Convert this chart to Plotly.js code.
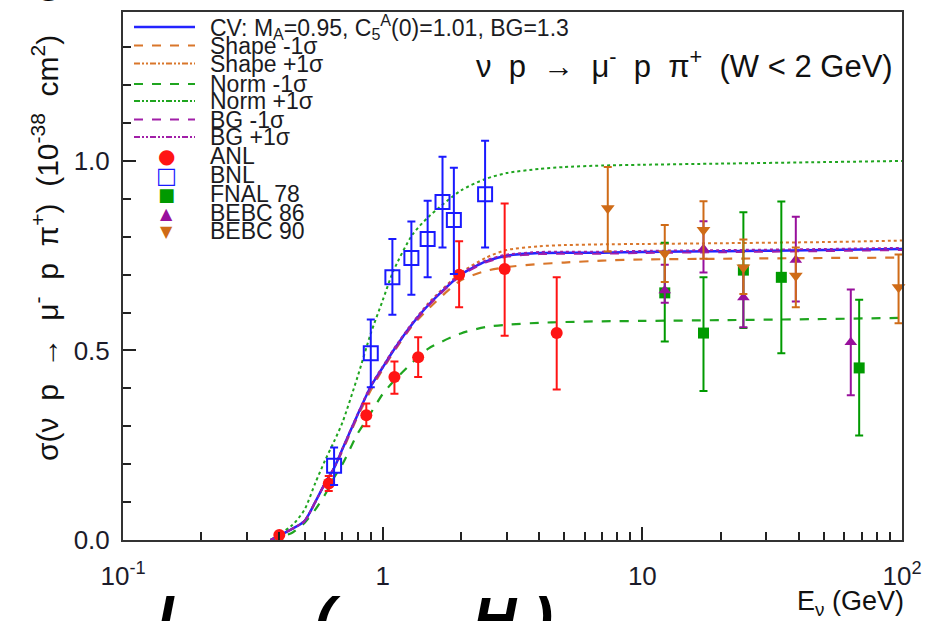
<!DOCTYPE html>
<html>
<head>
<meta charset="utf-8">
<script src="https://cdn.plot.ly/plotly-3.0.1.min.js"></script>
<style>html,body{margin:0;padding:0;background:#fff;}#chart{width:925px;height:621px;}</style>
</head>
<body>
<div id="chart"></div>
<script>
// ---------- model curves ----------
const curveE      = [0.37,0.45,0.5,0.55,0.6,0.65,0.7,0.8,0.9,1.0,1.1,1.3,1.5,2,2.5,3,4,5,7,10,20,50,100];
const cvSigma     = [0,0.03,0.05,0.10,0.15,0.19,0.24,0.33,0.405,0.455,0.50,0.57,0.62,0.70,0.735,0.75,0.757,0.758,0.758,0.76,0.762,0.765,0.768];
const shapeMinus  = [0,0.03,0.05,0.10,0.15,0.19,0.235,0.325,0.395,0.45,0.495,0.565,0.61,0.685,0.71,0.72,0.728,0.732,0.737,0.74,0.742,0.744,0.745];
const shapePlus   = [0,0.03,0.05,0.10,0.15,0.19,0.24,0.33,0.405,0.455,0.50,0.57,0.625,0.705,0.745,0.765,0.775,0.778,0.78,0.781,0.783,0.786,0.79];
const normMinus   = [0,0.02,0.045,0.08,0.12,0.165,0.20,0.28,0.335,0.385,0.418,0.468,0.505,0.545,0.562,0.568,0.573,0.575,0.577,0.578,0.58,0.583,0.586];
const normPlus    = [0,0.04,0.08,0.15,0.21,0.26,0.31,0.43,0.545,0.632,0.71,0.805,0.852,0.922,0.953,0.968,0.979,0.984,0.988,0.99,0.993,0.997,1.0];
const bgMinus     = [0,0.03,0.05,0.10,0.15,0.19,0.238,0.328,0.402,0.452,0.497,0.567,0.617,0.697,0.732,0.747,0.754,0.755,0.755,0.757,0.759,0.762,0.765];
const bgPlus      = [0,0.03,0.05,0.10,0.15,0.19,0.242,0.332,0.408,0.458,0.503,0.573,0.623,0.703,0.738,0.753,0.76,0.761,0.761,0.763,0.765,0.768,0.771];

// ---------- data points ----------
const anlE   = [0.40,0.62,0.865,1.11,1.37,1.97,2.95,4.68];
const anlY   = [0.013,0.149,0.329,0.43,0.482,0.70,0.715,0.546];
const anlUp  = [0.005,0.02,0.031,0.041,0.053,0.088,0.173,0.147];
const anlDn  = [0.005,0.02,0.029,0.044,0.052,0.086,0.176,0.149];

const bnlE   = [0.65,0.90,1.09,1.29,1.49,1.70,1.88,2.48];
const bnlY   = [0.196,0.493,0.693,0.744,0.794,0.892,0.844,0.912];
const bnlUp  = [0.048,0.089,0.101,0.096,0.101,0.119,0.138,0.141];
const bnlDn  = [0.051,0.090,0.099,0.097,0.101,0.120,0.142,0.140];

const fnalE  = [12.2,17.2,24.5,34.3,68.4];
const fnalY  = [0.652,0.546,0.712,0.693,0.454];
const fnalUp = [0.132,0.147,0.153,0.20,0.18];
const fnalDn = [0.128,0.153,0.153,0.20,0.178];

const b86E   = [12.2,17.2,24.5,39,63.5];
const b86Y   = [0.658,0.768,0.640,0.739,0.522];
const b86Up  = [0.068,0.073,0.08,0.114,0.139];
const b86Dn  = [0.032,0.062,0.079,0.11,0.14];

const b90E   = [7.36,12.2,17.2,24.5,39,97];
const b90Y   = [0.875,0.756,0.818,0.719,0.697,0.667];
const b90Up  = [0.109,0.075,0.076,0.074,0.075,0.086];
const b90Dn  = [0.114,0.075,0.076,0.070,0.083,0.095];

// ---------- labels ----------
const xTickVals = [0.1,1,10,100];
const xTickText = ['10<sup>-1</sup>','1','10','10<sup>2</sup>'];
const yTickVals = [0,0.5,1.0];
const yTickText = ['0.0','0.5','1.0'];
const curveNames = ['CV: M<sub>A</sub>=0.95, C<sub>5</sub><sup>A</sup>(0)=1.01, BG=1.3','Shape -1σ','Shape +1σ','Norm -1σ','Norm +1σ','BG -1σ','BG +1σ'];
const dataNames  = ['ANL','BNL','FNAL 78','BEBC 86','BEBC 90'];
const yTitle = 'σ(ν&nbsp; p&nbsp; →&nbsp; μ<sup>-</sup>&nbsp; p&nbsp; π<sup>+</sup>)&nbsp; (10<sup>-38</sup>&nbsp; cm<sup>2</sup>)';
const xTitle = 'E<sub>ν</sub> (GeV)';
const processLabel = 'ν&nbsp; p&nbsp; →&nbsp; μ<sup>-</sup>&nbsp; p&nbsp; π<sup>+</sup>&nbsp; (W &lt; 2 GeV)';

const C = {cv:'#2424ff', shape:'#d9762b', norm:'#1fa51f', bg:'#a11fa8',
           anl:'#ff1414', bnl:'#1a1aff', fnal:'#009a00', b86:'#98109c', b90:'#cf6b17'};

function curve(y, color, dash, width){
  return {x:curveE, y:y, type:'scatter', mode:'lines', showlegend:false, hoverinfo:'skip',
          line:{color:color, dash:dash, width:width, shape:'spline', smoothing:0.7}};
}
function pts(x,y,up,dn,color,symbol,size,lw){
  return {x:x, y:y, type:'scatter', mode:'markers', showlegend:false, cliponaxis:false,
          marker:{color:color, symbol:symbol, size:size, line:{color:color, width:lw||0}},
          error_y:{type:'data', symmetric:false, array:up, arrayminus:dn, color:color, thickness:2, width:4}};
}

const traces = [
  curve(normPlus, C.norm, 'dot', 2),
  curve(normMinus, C.norm, 'dash', 2.2),
  curve(shapePlus, C.shape, 'dot', 2),
  curve(shapeMinus, C.shape, 'dash', 2.2),
  curve(cvSigma, C.cv, 'solid', 2.5),
  curve(bgMinus, C.bg, 'dash', 1.8),
  curve(bgPlus, C.bg, 'dot', 1.8),
  pts(anlE, anlY, anlUp, anlDn, C.anl, 'circle', 12),
  pts(bnlE, bnlY, bnlUp, bnlDn, C.bnl, 'square-open', 14, 2),
  pts(fnalE, fnalY, fnalUp, fnalDn, C.fnal, 'square', 11),
  pts(b86E, b86Y, b86Up, b86Dn, C.b86, 'triangle-up', 11),
  pts(b90E, b90Y, b90Up, b90Dn, C.b90, 'triangle-down', 12)
];

// ---------- hand-made legend (ROOT style, tight rows) ----------
const L = 123, T = 12, PW = 779, PH = 528;
const px = v => (v - L) / PW;
const py = v => (T + PH - v) / PH;
const FONT = 'Arial, Liberation Sans, sans-serif';
const rowY = [27,45.5,63.5,84,101,119.5,137,156,175,194,213,231];
const dd = '6px,2px,2px,2px,2px,2px';
const lineStyles = [[C.cv,'solid',2.5],[C.shape,'dash',2],[C.shape,dd,2],
                    [C.norm,'dash',2],[C.norm,dd,2],[C.bg,'dash',2],[C.bg,dd,2]];
const glyphs = [['●',C.anl,20],['□',C.bnl,22],['■',C.fnal,18],['▲',C.b86,16],['▼',C.b90,16]];
const shapes = [];
const annotations = [];
lineStyles.forEach((s,i)=>{
  shapes.push({type:'line', xref:'paper', yref:'paper', x0:px(134), x1:px(195), y0:py(rowY[i]), y1:py(rowY[i]),
               line:{color:s[0], dash:s[1], width:s[2]}});
});
curveNames.concat(dataNames).forEach((t,i)=>{
  annotations.push({xref:'paper', yref:'paper', x:px(208), y:py(rowY[i]), xanchor:'left', yanchor:'middle',
                    text:t, showarrow:false, font:{family:FONT, size:23, color:'#1b1b22'}});
});
glyphs.forEach((g,i)=>{
  annotations.push({xref:'paper', yref:'paper', x:px(166), y:py(rowY[7+i]), xanchor:'center', yanchor:'middle',
                    text:g[0], showarrow:false, font:{family:'DejaVu Sans', size:g[2], color:g[1]}});
});
annotations.push({xref:'paper', yref:'paper', x:px(895), y:py(64), xanchor:'right', yanchor:'middle', showarrow:false,
                  text:processLabel, font:{family:FONT, size:31, color:'#111'}});
annotations.push({xref:'paper', yref:'paper', x:px(906), y:py(603), xanchor:'right', yanchor:'middle', showarrow:false,
                  text:xTitle, font:{family:FONT, size:27, color:'#111'}});
annotations.push({xref:'paper', yref:'paper', x:px(45), y:py(248), xanchor:'center', yanchor:'middle', showarrow:false,
                  textangle:-90, text:yTitle, font:{family:FONT, size:30, color:'#111'}});

// fragments of the slide text that overlaps the figure edges
const fragStyle = {family:FONT, size:60, color:'#000', weight:'bold', style:'italic'};
[['l',166],['(',328],['H',495],[')',540]].forEach(f=>{
  annotations.push({xref:'paper', yref:'paper', x:px(f[1]), y:py(583), xanchor:'center', yanchor:'top',
                    showarrow:false, text:f[0], font:fragStyle});
});
const topStyle = {family:FONT, size:40, color:'#000', weight:'bold'};
[['O',48,11],['y',410,-2],['g',892,-2]].forEach(f=>{
  annotations.push({xref:'paper', yref:'paper', x:px(f[1]), y:py(f[2]), xanchor:'center', yanchor:'bottom',
                    showarrow:false, text:f[0], font:topStyle});
});

const minorX = [0.2,0.3,0.4,0.5,0.6,0.7,0.8,0.9,2,3,4,5,6,7,8,9,20,30,40,50,60,70,80,90];
const minorY = [0.1,0.2,0.3,0.4,0.6,0.7,0.8,0.9,1.1,1.2,1.3];

const layout = {
  width:925, height:621,
  margin:{l:L, r:925-L-PW, t:T, b:621-T-PH},
  paper_bgcolor:'#fff', plot_bgcolor:'#fff',
  font:{family:FONT, color:'#1b1b2a'},
  showlegend:false,
  xaxis:{type:'log', range:[-1,2], tickmode:'array', tickvals:xTickVals, ticktext:xTickText,
         ticks:'inside', ticklen:13, tickwidth:2, tickcolor:'#222',
         showline:true, linewidth:2, linecolor:'#333', mirror:true, showgrid:false, zeroline:false,
         tickfont:{size:26}, ticklabelstandoff:12,
         minor:{tickmode:'array', tickvals:minorX, ticks:'inside', ticklen:8, tickwidth:2, tickcolor:'#222', showgrid:false}},
  yaxis:{range:[0,1.393], tickmode:'array', tickvals:yTickVals, ticktext:yTickText,
         ticks:'inside', ticklen:13, tickwidth:2, tickcolor:'#222',
         showline:true, linewidth:2, linecolor:'#333', mirror:true, showgrid:false, zeroline:false,
         tickfont:{size:26}, ticklabelstandoff:6,
         minor:{tickmode:'array', tickvals:minorY, ticks:'inside', ticklen:8, tickwidth:2, tickcolor:'#222', showgrid:false}},
  shapes:shapes,
  annotations:annotations
};

Plotly.newPlot('chart', traces, layout, {staticPlot:true, displayModeBar:false});
</script>
</body>
</html>
